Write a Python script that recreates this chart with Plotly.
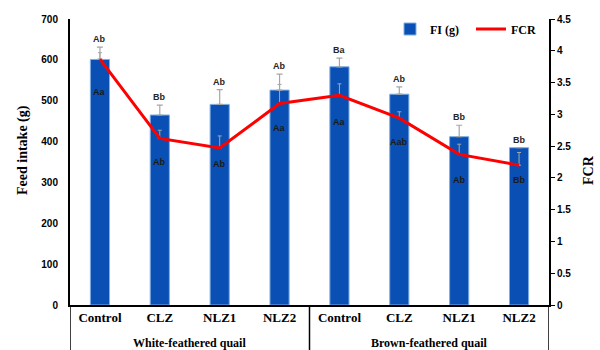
import plotly.graph_objects as go

# Treatments per strain
categories = ["Control", "CLZ", "NLZ1", "NLZ2", "Control", "CLZ", "NLZ1", "NLZ2"]
groups = ["White-feathered quail", "Brown-feathered quail"]

# Feed intake (g) with SE
fi_values = [601, 465, 491, 526, 583, 516, 412, 385]
fi_err = [30, 24, 36, 39, 21, 18, 28, 0]
fi_letters = ["Ab", "Bb", "Ab", "Ab", "Ba", "Ab", "Bb", "Bb"]

# Feed conversion ratio with SE
fcr_values = [3.87, 2.62, 2.47, 3.17, 3.30, 2.94, 2.37, 2.20]
fcr_err = [0.10, 0.13, 0.19, 0.30, 0.18, 0.10, 0.16, 0.20]
fcr_letters = ["Aa", "Ab", "Ab", "Aa", "Aa", "Aab", "Ab", "Bb"]
fcr_letter_dy = [-33, -24, -16, -24, -27, -24, -26, -15]

x = list(range(len(categories)))

SERIF = "Liberation Serif"
SANS = "Liberation Sans"
BLUE = "#0A50B4"
GREY = "#A6A6A6"

L, R, T, B = 70, 51, 19, 45
W, H = 600, 350
pw, ph = W - L - R, H - T - B


def px_to_paper(px, py):
    return (px - L) / pw, (H - B - py) / ph


fig = go.Figure()

fig.add_trace(go.Bar(
    x=x, y=fi_values, name="FI (g)",
    marker=dict(color=BLUE, line=dict(color="#7EAEE4", width=1)),
    error_y=dict(type="data", array=fi_err, arrayminus=[0] * len(fi_err),
                 symmetric=False, color=GREY, thickness=1.2, width=3),
    yaxis="y",
))

fig.add_trace(go.Scatter(
    x=x, y=fcr_values, name="FCR", mode="lines",
    line=dict(color="#FF0000", width=3),
    error_y=dict(type="data", array=fcr_err, arrayminus=[0] * len(fcr_err),
                 symmetric=False, color=GREY, thickness=1, width=2),
    yaxis="y2",
))

annotations = []
# Significance letters above the feed intake bars
for xi, v, e, t in zip(x, fi_values, fi_err, fi_letters):
    annotations.append(dict(
        x=xi, y=v + e, xref="x", yref="y", text=t, showarrow=False,
        xanchor="center", yanchor="bottom", yshift=1,
        font=dict(family=SANS, size=9, color="#262626", weight="bold"),
    ))
# Significance letters for FCR, inside the bars
for xi, v, dy, t in zip(x, fcr_values, fcr_letter_dy, fcr_letters):
    annotations.append(dict(
        x=xi, y=v, xref="x", yref="y2", text=t, showarrow=False,
        xanchor="center", yanchor="middle", yshift=dy,
        font=dict(family=SANS, size=9, color="#1A1A1A", weight="bold"),
    ))
# Strain group labels under the treatment names
for gi, g in enumerate(groups):
    annotations.append(dict(
        x=1.5 + 4 * gi, y=-0.133, xref="x", yref="paper", text=g,
        showarrow=False, xanchor="center", yanchor="middle",
        font=dict(family=SERIF, size=12, color="black", weight="bold"),
    ))
# Axis titles
tx, ty = px_to_paper(23, 150)
annotations.append(dict(
    x=tx, y=ty, xref="paper", yref="paper", text="Feed intake (g)",
    showarrow=False, textangle=-90, xanchor="center", yanchor="middle",
    font=dict(family=SERIF, size=14, color="black", weight="bold"),
))
tx, ty = px_to_paper(589, 170)
annotations.append(dict(
    x=tx, y=ty, xref="paper", yref="paper", text="FCR",
    showarrow=False, textangle=-90, xanchor="center", yanchor="middle",
    font=dict(family=SERIF, size=14, color="black", weight="bold"),
))

# Vertical separators below the x axis
shapes = []
for xs in [-0.5, 3.5, 7.5]:
    shapes.append(dict(
        type="line", xref="x", yref="paper", x0=xs, x1=xs, y0=0, y1=-0.17,
        line=dict(color="black", width=1.5),
    ))

lx, ly = px_to_paper(390, 29)
fig.update_layout(
    width=W, height=H,
    margin=dict(l=L, r=R, t=T, b=B, autoexpand=False),
    paper_bgcolor="white", plot_bgcolor="white",
    bargap=0.68,
    showlegend=True,
    legend=dict(
        orientation="h", x=lx, y=ly, xanchor="left", yanchor="middle",
        font=dict(family=SERIF, size=12, color="black", weight="bold"),
        bgcolor="rgba(0,0,0,0)", itemwidth=30,
        entrywidth=36, entrywidthmode="pixels",
    ),
    xaxis=dict(
        range=[-0.5, 7.5], tickvals=x, ticktext=categories,
        tickfont=dict(family=SERIF, size=13, color="black", weight="bold"),
        showline=True, linecolor="black", linewidth=1.5,
        ticks="", showgrid=False, zeroline=False,
    ),
    yaxis=dict(
        range=[0, 700], dtick=100,
        tickfont=dict(family=SANS, size=10, color="black", weight="bold"),
        showline=True, linecolor="black", linewidth=2,
        ticks="", ticklabelstandoff=8, showgrid=False, zeroline=False,
    ),
    yaxis2=dict(
        range=[0, 4.5], dtick=0.5, overlaying="y", side="right",
        tickfont=dict(family=SANS, size=10, color="black", weight="bold"),
        showline=True, linecolor="black", linewidth=2,
        ticks="outside", ticklen=4, tickcolor="black",
        showgrid=False, zeroline=False,
    ),
    annotations=annotations,
    shapes=shapes,
)

fig.write_html("out.html")
